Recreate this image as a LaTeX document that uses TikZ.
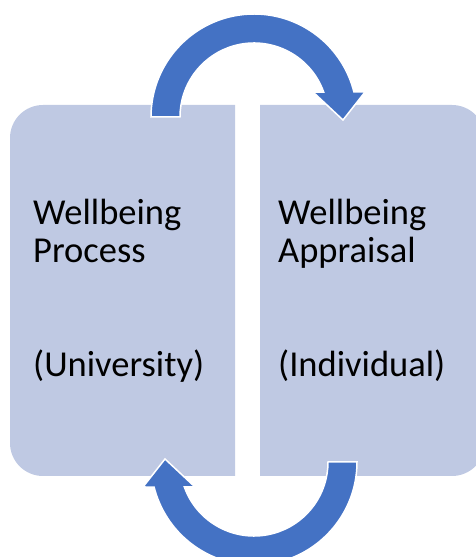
\documentclass[tikz,border=0pt]{standalone}
\usepackage{fontspec}
\setmainfont{Carlito}
\definecolor{panelfill}{HTML}{BFC9E3}
\definecolor{loopblue}{HTML}{4472C4}

\begin{document}
\begin{tikzpicture}[x=1pt, y=1pt,
    panel/.style={fill=panelfill},
    looparrow/.style={fill=loopblue, draw=white, line width=1.5pt, line join=miter},
    label text/.style={anchor=base west, inner sep=0pt, align=left, font=\fontsize{36.5}{38}\selectfont}]
  \useasboundingbox (0,0) rectangle (476,557);
  \clip (0,0) rectangle (476,557);

  % the two panels, rounded on their outer side
  \fill[panel] (235,81) -- (43,81) arc[start angle=270, end angle=180, radius=33]
    -- (10,419) arc[start angle=180, end angle=90, radius=33] -- (235,452) -- cycle;
  \fill[panel] (260,81) -- (452,81) arc[start angle=-90, end angle=0, radius=33]
    -- (485,419) arc[start angle=0, end angle=90, radius=33] -- (260,452) -- cycle;

  \coordinate (top hub) at (254,440);
  \coordinate (bottom hub) at (254,95);

  % upper arrow, left panel over to right panel
  \filldraw[looparrow] ([shift={(180:103)}]top hub) arc[start angle=180, end angle=14.05, radius=103]
    -- ([shift={(111,25)}]top hub) -- ([shift={(89,-3)}]top hub) -- ([shift={(59,25)}]top hub)
    -- ([shift={(19.7:74)}]top hub) arc[start angle=19.7, end angle=180, radius=74] -- cycle;

  % lower arrow, right panel back to left panel
  \filldraw[looparrow] ([shift={(0:103)}]bottom hub) arc[start angle=0, end angle=-165.95, radius=103]
    -- ([shift={(-111,-25)}]bottom hub) -- ([shift={(-89,3)}]bottom hub) -- ([shift={(-59,-25)}]bottom hub)
    -- ([shift={(-160.3:74)}]bottom hub) arc[start angle=-160.3, end angle=0, radius=74] -- cycle;

  % base anchor sits on the last line
  \node[label text] (process) at (33,180) {Wellbeing\\Process\\[76pt](University)};
  \node[label text] (appraisal) at (278,180) {Wellbeing\\Appraisal\\[76pt](Individual)};
\end{tikzpicture}
\end{document}
